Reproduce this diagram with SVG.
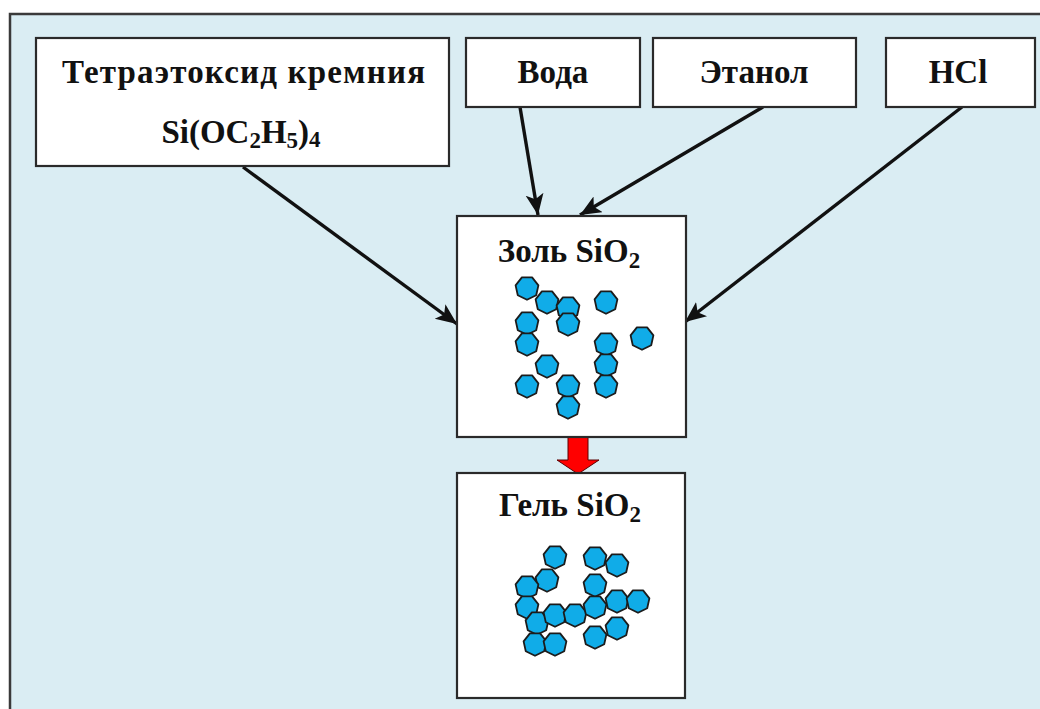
<svg xmlns="http://www.w3.org/2000/svg" xmlns:xlink="http://www.w3.org/1999/xlink" width="1040" height="709" viewBox="0 0 1040 709">
  <defs>
    <style>
      .box { fill: #ffffff; stroke: #2a2a2a; stroke-width: 2.2; }
      .lbl { font-family: "Liberation Serif", "Times New Roman", serif; font-weight: bold; font-size: 33px; fill: #111111; text-anchor: middle; }
      .sub { font-size: 23px; }
      .link { stroke: #111111; stroke-width: 3.4; fill: none; marker-end: url(#head); }
      .p { fill: #10ACE8; stroke: #1c1c1c; stroke-width: 1.8; stroke-linejoin: round; }
    </style>
    <marker id="head" markerUnits="userSpaceOnUse" markerWidth="24" markerHeight="20" refX="21" refY="9" orient="auto">
      <path d="M0,0 L21,9 L0,18 L5,9 Z" fill="#111111"/>
    </marker>
    <!-- particle: small heptagon -->
    <polygon id="pt" class="p" points="0,11.8 -9.2,7.3 -11.4,-2.6 -5.1,-10.6 5.1,-10.6 11.4,-2.6 9.2,7.3"/>
  </defs>

  <!-- page and panel -->
  <rect x="0" y="0" width="1040" height="709" fill="#ffffff"/>
  <rect x="10" y="14" width="1040" height="710" fill="#DAEDF3" stroke="#3a3a3a" stroke-width="2.5"/>

  <!-- connectors -->
  <g id="connectors">
    <line class="link" x1="243" y1="167" x2="457" y2="324"/>
    <line class="link" x1="520" y1="107" x2="538" y2="215"/>
    <line class="link" x1="763" y1="107" x2="580" y2="215"/>
    <line class="link" x1="962" y1="107" x2="685" y2="322"/>
    <polygon points="568,437 588,437 588,460 599,460 578,474 557,460 568,460" fill="#FF0000" stroke="#5a0000" stroke-width="1"/>
  </g>

  <!-- source nodes -->
  <g id="teos">
    <rect class="box" x="36" y="38" width="413" height="128"/>
    <text class="lbl" x="243.5" y="83" textLength="363" lengthAdjust="spacing">Тетраэтоксид кремния</text>
    <text class="lbl" x="241" y="143">Si(OC<tspan class="sub" dy="5">2</tspan><tspan dy="-5">H</tspan><tspan class="sub" dy="5">5</tspan><tspan dy="-5">)</tspan><tspan class="sub" dy="4">4</tspan></text>
  </g>
  <g id="water">
    <rect class="box" x="466" y="38" width="174" height="69"/>
    <text class="lbl" x="553" y="83">Вода</text>
  </g>
  <g id="ethanol">
    <rect class="box" x="653" y="38" width="203" height="69"/>
    <text class="lbl" x="754" y="83">Этанол</text>
  </g>
  <g id="hcl">
    <rect class="box" x="886" y="38" width="149" height="69"/>
    <text class="lbl" x="958" y="83">HCl</text>
  </g>

  <!-- sol -->
  <g id="sol">
    <rect class="box" x="457" y="216" width="229" height="221"/>
    <text class="lbl" x="569" y="262">Золь SiO<tspan class="sub" dy="6">2</tspan></text>
    <use xlink:href="#pt" x="527" y="288"/>
    <use xlink:href="#pt" x="547" y="302"/>
    <use xlink:href="#pt" x="568" y="308"/>
    <use xlink:href="#pt" x="568" y="324"/>
    <use xlink:href="#pt" x="606" y="302"/>
    <use xlink:href="#pt" x="527" y="323"/>
    <use xlink:href="#pt" x="527" y="344"/>
    <use xlink:href="#pt" x="642" y="338"/>
    <use xlink:href="#pt" x="606" y="344"/>
    <use xlink:href="#pt" x="547" y="366"/>
    <use xlink:href="#pt" x="606" y="365"/>
    <use xlink:href="#pt" x="527" y="386"/>
    <use xlink:href="#pt" x="568" y="386"/>
    <use xlink:href="#pt" x="606" y="386"/>
    <use xlink:href="#pt" x="568" y="407"/>
  </g>

  <!-- gel -->
  <g id="gel">
    <rect class="box" x="457" y="473" width="228" height="225"/>
    <text class="lbl" x="570" y="516">Гель SiO<tspan class="sub" dy="6">2</tspan></text>
    <use xlink:href="#pt" x="555" y="557"/>
    <use xlink:href="#pt" x="595" y="558"/>
    <use xlink:href="#pt" x="617" y="565"/>
    <use xlink:href="#pt" x="547" y="580"/>
    <use xlink:href="#pt" x="527" y="587"/>
    <use xlink:href="#pt" x="595" y="585"/>
    <use xlink:href="#pt" x="527" y="607"/>
    <use xlink:href="#pt" x="537" y="623"/>
    <use xlink:href="#pt" x="555" y="615"/>
    <use xlink:href="#pt" x="575" y="615"/>
    <use xlink:href="#pt" x="595" y="607"/>
    <use xlink:href="#pt" x="617" y="601"/>
    <use xlink:href="#pt" x="638" y="601"/>
    <use xlink:href="#pt" x="595" y="637"/>
    <use xlink:href="#pt" x="617" y="628"/>
    <use xlink:href="#pt" x="535" y="644"/>
    <use xlink:href="#pt" x="555" y="644"/>
  </g>
</svg>
